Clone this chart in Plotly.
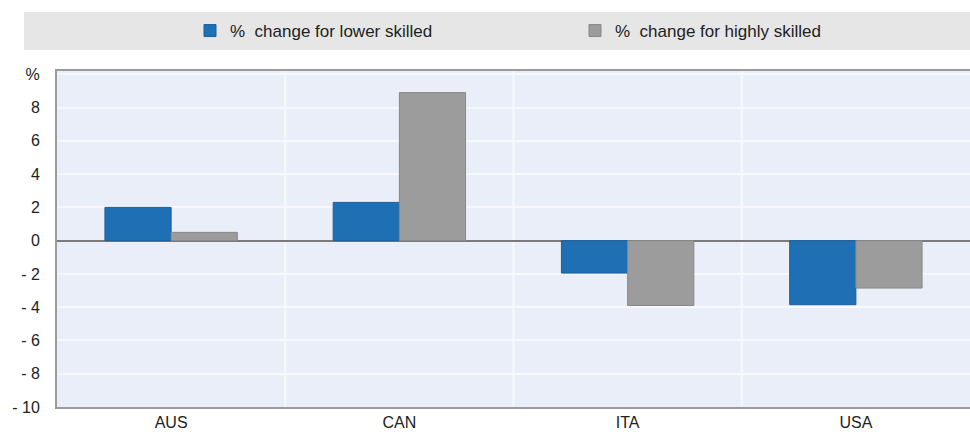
import plotly.graph_objects as go

countries = ["AUS", "CAN", "ITA", "USA"]
lower_skilled = [2.0, 2.3, -1.95, -3.85]
highly_skilled = [0.5, 8.9, -3.9, -2.85]
series_names = ["%  change for lower skilled", "%  change for highly skilled"]
ytick_vals = [-10, -8, -6, -4, -2, 0, 2, 4, 6, 8, 10]
ytick_text = ["- 10", "- 8", "- 6", "- 4", "- 2", "0", "2", "4", "6", "8", "%"]

W, H = 970, 436
L, R, T, B = 57, 0, 71, 29
pw, ph = W - L - R, H - T - B
FONT = "Liberation Sans, Arial, sans-serif"

fig = go.Figure()
fig.add_trace(go.Bar(x=countries, y=lower_skilled, name=series_names[0],
                     marker=dict(color="#1f6fb4", line=dict(color="#1a5f9a", width=1))))
fig.add_trace(go.Bar(x=countries, y=highly_skilled, name=series_names[1],
                     marker=dict(color="#9c9c9c", line=dict(color="#888888", width=1))))

# category separators
for i in range(1, len(countries)):
    fig.add_shape(type="line", xref="x", yref="paper", x0=i - 0.5, x1=i - 0.5, y0=0, y1=1,
                  line=dict(color="#f7f8fc", width=2), layer="below")

# legend band
fig.add_shape(type="rect", xref="paper", yref="paper",
              x0=(24 - L) / pw, x1=(W - L) / pw, y0=(H - B - 50) / ph, y1=(H - B - 12) / ph,
              fillcolor="#e6e6e6", line=dict(width=0), layer="below")

fig.update_layout(
    width=W, height=H,
    margin=dict(l=L, r=R, t=T, b=B, pad=0, autoexpand=False),
    paper_bgcolor="white",
    plot_bgcolor="#e9eef8",
    barmode="group",
    bargap=0.42,
    bargroupgap=0,
    font=dict(family=FONT, size=16, color="#222222"),
    showlegend=True,
    legend=dict(orientation="h", x=(190 - L) / pw, xanchor="left", y=(H - B - 31) / ph, yanchor="middle",
                bgcolor="rgba(0,0,0,0)", font=dict(size=17), entrywidth=340, entrywidthmode="pixels",
                itemwidth=30, traceorder="normal"),
    xaxis=dict(showgrid=False, showline=True, linecolor="#9a9a9a", linewidth=2, mirror=True,
               ticks="", tickfont=dict(size=16), range=[-0.5, 3.5]),
    yaxis=dict(range=[-10, 10.2], tickvals=ytick_vals, ticktext=ytick_text,
               showgrid=True, gridcolor="#f7f8fc", gridwidth=2,
               zeroline=True, zerolinecolor="#7a7a7a", zerolinewidth=2,
               showline=True, linecolor="#9a9a9a", linewidth=2, mirror=True,
               ticks="", ticklabelstandoff=12, tickfont=dict(size=16)),
)

fig.write_html("out.html", config={"displayModeBar": False},
               post_script="document.body.style.margin='0';document.body.style.overflow='hidden';")
